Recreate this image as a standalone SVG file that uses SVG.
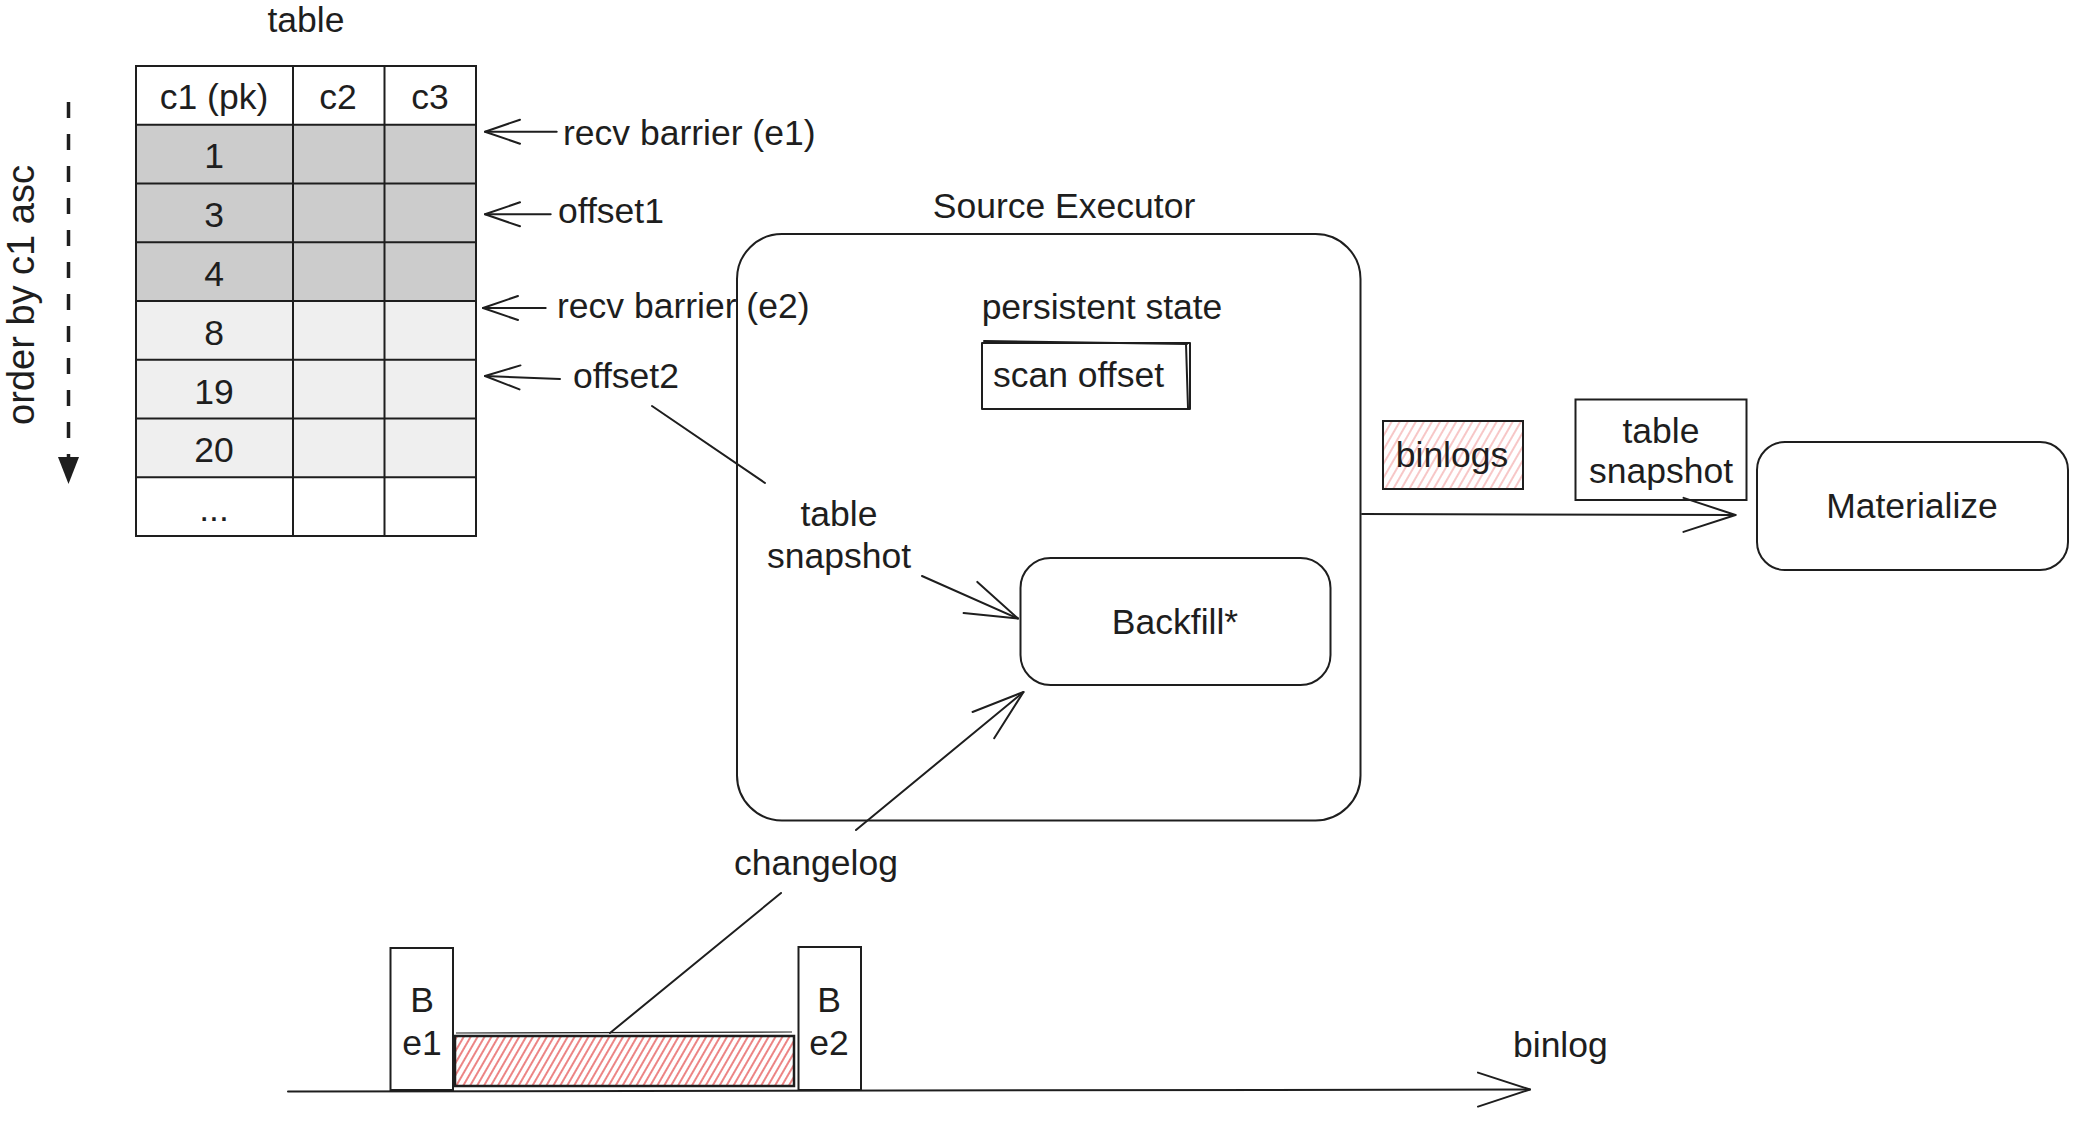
<svg xmlns="http://www.w3.org/2000/svg" width="2074" height="1132" viewBox="0 0 2074 1132">
<style>
text{font-family:"Liberation Sans",Arial,Helvetica,sans-serif;font-size:35.5px;fill:#1e1e1e}
.m{text-anchor:middle}
.ln{fill:none;stroke:#1e1e1e;stroke-width:2;stroke-linecap:round;stroke-linejoin:round}
.grid{fill:none;stroke:#1e1e1e;stroke-width:2}
.dark{fill:#cccccc}
.light{fill:#efefef}
.white{fill:#ffffff}
</style>
<defs>
<marker id="as" viewBox="-40 -16 42 32" markerWidth="42" markerHeight="32" refX="0" refY="0" orient="auto" markerUnits="userSpaceOnUse" overflow="visible">
<path d="M-35,-12 L0,0 L-35,12" fill="none" stroke="#1e1e1e" stroke-width="2" stroke-linecap="round" stroke-linejoin="round"/>
</marker>
<marker id="al" viewBox="-60 -20 62 40" markerWidth="62" markerHeight="40" refX="0" refY="0" orient="auto" markerUnits="userSpaceOnUse" overflow="visible">
<path d="M-52,-17 L0,0 L-52,17" fill="none" stroke="#1e1e1e" stroke-width="2" stroke-linecap="round" stroke-linejoin="round"/>
</marker>
<pattern id="hatchLight" width="7" height="7" patternUnits="userSpaceOnUse" patternTransform="rotate(30)">
<line x1="2" y1="0" x2="2" y2="7" stroke="#e03131" stroke-width="1" stroke-opacity="0.55"/>
</pattern>
<pattern id="hatch" width="6" height="6" patternUnits="userSpaceOnUse" patternTransform="rotate(30)">
<line x1="2" y1="0" x2="2" y2="6" stroke="#e03131" stroke-width="1.2"/>
</pattern>
</defs>
<rect width="2074" height="1132" fill="#ffffff"/>

<g id="table">
<text class="m" x="306" y="32">table</text>
<rect class="white" x="136" y="66" width="340" height="58.75"/>
<rect class="dark" x="136" y="124.75" width="340" height="176.25"/>
<rect class="light" x="136" y="301" width="340" height="176.25"/>
<rect class="white" x="136" y="477.25" width="340" height="58.75"/>
<rect class="grid" x="136" y="66" width="340" height="470"/>
<path class="grid" d="M293,66V536M384.5,66V536M136,124.75H476M136,183.5H476M136,242.25H476M136,301H476M136,359.75H476M136,418.5H476M136,477.25H476"/>
<text class="m" x="214" y="109">c1 (pk)</text>
<text class="m" x="338" y="109">c2</text>
<text class="m" x="430" y="109">c3</text>
<text class="m" x="214" y="168">1</text>
<text class="m" x="214" y="227">3</text>
<text class="m" x="214" y="286">4</text>
<text class="m" x="214" y="345">8</text>
<text class="m" x="214" y="404">19</text>
<text class="m" x="214" y="462">20</text>
<text class="m" x="214" y="521">...</text>
</g>

<g id="order-label">
<line x1="68.5" y1="102" x2="68.5" y2="458" stroke="#1e1e1e" stroke-width="3.5" stroke-dasharray="16 16"/>
<polygon points="58,457 79,457 68.5,484" fill="#1e1e1e"/>
<text class="m" transform="translate(34,295) rotate(-90)" style="font-size:38px">order by c1 asc</text>
</g>

<g id="pointer-labels">
<text x="563" y="145">recv barrier (e1)</text>
<text x="558" y="223">offset1</text>
<text x="557" y="318">recv barrier (e2)</text>
<text x="573" y="388">offset2</text>
</g>

<g id="source-executor">
<text class="m" x="1064" y="218">Source Executor</text>
<rect class="ln" x="737" y="234" width="623.5" height="586.5" rx="45" ry="45"/>
</g>

<g id="persistent-state">
<text class="m" x="1102" y="319">persistent state</text>
<rect class="ln" x="982" y="343" width="208" height="66"/>
<path class="ln" d="M984,341 L1187,344 M1186,344 L1188,408" stroke-width="1.2"/>
<text x="993" y="387">scan offset</text>
</g>

<g id="table-snapshot-label">
<text class="m" x="839" y="526">table</text>
<text class="m" x="839" y="568">snapshot</text>
</g>

<g id="backfill">
<rect class="ln" x="1020.5" y="558" width="310" height="127" rx="30" ry="30"/>
<text class="m" x="1175" y="634">Backfill*</text>
</g>

<g id="binlogs">
<rect x="1383" y="421" width="140" height="68" fill="url(#hatchLight)" stroke="#1e1e1e" stroke-width="2"/>
<text class="m" x="1452" y="467">binlogs</text>
</g>

<g id="table-snapshot-box">
<rect x="1575.5" y="399.5" width="171" height="100.5" fill="#ffffff" stroke="#1e1e1e" stroke-width="2"/>
<text class="m" x="1661" y="443">table</text>
<text class="m" x="1661" y="483">snapshot</text>
</g>

<g id="materialize">
<rect class="ln" x="1757" y="442" width="311" height="128" rx="28" ry="28"/>
<text class="m" x="1912" y="518">Materialize</text>
</g>

<g id="changelog-label">
<text class="m" x="816" y="875">changelog</text>
</g>

<g id="barrier-e1">
<rect x="390.5" y="948" width="62.5" height="142" fill="#ffffff" stroke="#1e1e1e" stroke-width="2"/>
<text class="m" x="422" y="1012">B</text>
<text class="m" x="422" y="1055">e1</text>
</g>

<g id="changelog-block">
<rect x="455" y="1036" width="339" height="50" fill="url(#hatch)" stroke="#1e1e1e" stroke-width="2.5"/>
<line x1="456" y1="1033" x2="792" y2="1032" stroke="#1e1e1e" stroke-width="1.2"/>
</g>

<g id="barrier-e2">
<rect x="798.5" y="947" width="62.5" height="143" fill="#ffffff" stroke="#1e1e1e" stroke-width="2"/>
<text class="m" x="829" y="1012">B</text>
<text class="m" x="829" y="1055">e2</text>
</g>

<g id="binlog-axis">
<text x="1513" y="1057">binlog</text>
</g>

<g id="connectors">
<path class="ln" d="M556.7,131.7 L485,131.7" marker-end="url(#as)"/>
<path class="ln" d="M550.7,214.3 L485,214.3" marker-end="url(#as)"/>
<path class="ln" d="M545.7,308 L483,308" marker-end="url(#as)"/>
<path class="ln" d="M560,379 L485,376" marker-end="url(#as)"/>
<path class="ln" d="M652,406 L765,483"/>
<path class="ln" d="M922,576 L1018,618.5" marker-end="url(#al)"/>
<path class="ln" d="M856,830 L1023.5,692" marker-end="url(#al)"/>
<path class="ln" d="M781,893 L610,1033"/>
<path class="ln" d="M1362,514 L1735.5,515" marker-end="url(#al)"/>
<path class="ln" d="M288,1091.5 L1530,1089.5" stroke-width="2.5" marker-end="url(#al)"/>
</g>
</svg>
